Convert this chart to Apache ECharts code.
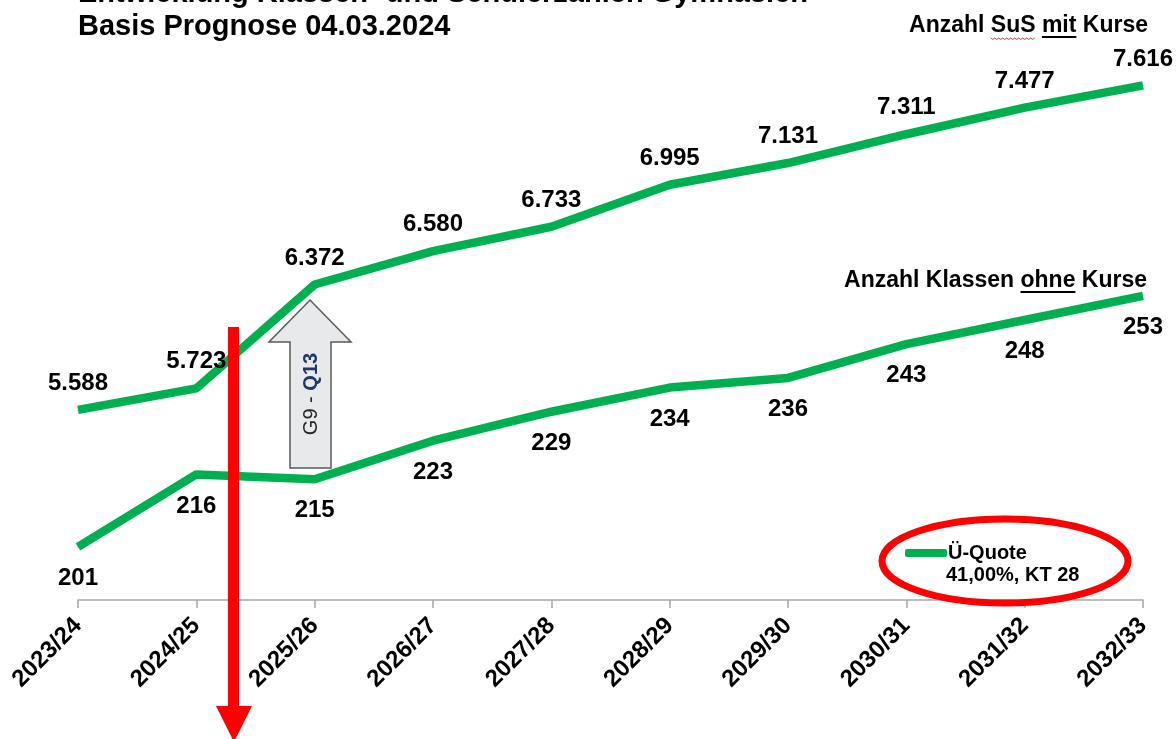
<!DOCTYPE html>
<html><head><meta charset="utf-8">
<script src="https://cdn.jsdelivr.net/npm/echarts@6/dist/echarts.min.js"></script>
<style>html,body{margin:0;padding:0;background:#fff}#c{width:1176px;height:739px}</style>
</head><body><div id="c"></div>
<script>
const categories = ['2023/24','2024/25','2025/26','2026/27','2027/28','2028/29','2029/30','2030/31','2031/32','2032/33'];
const susValues = [5588, 5723, 6372, 6580, 6733, 6995, 7131, 7311, 7477, 7616];
const klassenValues = [201, 216, 215, 223, 229, 234, 236, 243, 248, 253];
const seriesNames = ['Anzahl SuS mit Kurse', 'Anzahl Klassen ohne Kurse'];
const legendName = 'Ü-Quote';
const legendSub = '41,00%, KT 28';
const titleLines = ['Entwicklung Klassen- und Schülerzahlen Gymnasien', 'Basis Prognose 04.03.2024'];

const FONT = '"Liberation Sans", Arial, Helvetica, sans-serif';
const GREEN = '#00b050';
const fmt = v => String(v).replace(/\B(?=(\d{3})+(?!\d))/g, '.');

const chart = echarts.init(document.getElementById('c'), null, {renderer: 'canvas'});

const cv = document.createElement('canvas').getContext('2d');
function tw(t, size) { cv.font = 'bold ' + size + 'px ' + FONT; return cv.measureText(t).width; }

const nameSize = 23;
const n1 = seriesNames[0], n1Right = 1148, n1Base = 33;
const n1W = tw(n1, nameSize);
const n1Left = n1Right - n1W;
const susStart = n1Left + tw('Anzahl ', nameSize), susEnd = susStart + tw('SuS', nameSize);
const mitStart = n1Left + tw('Anzahl SuS ', nameSize), mitEnd = mitStart + tw('mit', nameSize);
const n2 = seriesNames[1], n2Right = 1147, n2Base = 288;
const n2W = tw(n2, nameSize);
const n2Left = n2Right - n2W;
const ohneStart = n2Left + tw('Anzahl Klassen ', nameSize), ohneEnd = ohneStart + tw('ohne', nameSize);

const wave = [];
for (let x = susStart, i = 0; x <= susEnd; x += 2, i++) wave.push([x, n1Base + 5 + (i % 2 ? 1.5 : 0)]);

const graphics = [
  {type:'text', left: 78, top: -21, style:{text: titleLines[0], font: 'bold 29px ' + FONT, fill:'#000'}},
  {type:'text', left: 78, top: 12, style:{text: titleLines[1], font: 'bold 29px ' + FONT, fill:'#000'}},
  {type:'text', x: n1Right, y: n1Base + 4, style:{text: n1, font: 'bold ' + nameSize + 'px ' + FONT, fill:'#000', align:'right', verticalAlign:'bottom'}},
  {type:'line', shape:{x1: mitStart, y1: n1Base + 4, x2: mitEnd, y2: n1Base + 4}, style:{stroke:'#000', lineWidth:1.8}},
  {type:'polyline', shape:{points: wave}, style:{stroke:'#e23b3b', lineWidth:1, fill:null}},
  {type:'text', x: n2Right, y: n2Base + 4, style:{text: n2, font: 'bold ' + nameSize + 'px ' + FONT, fill:'#000', align:'right', verticalAlign:'bottom'}},
  {type:'line', shape:{x1: ohneStart, y1: n2Base + 4, x2: ohneEnd, y2: n2Base + 4}, style:{stroke:'#000', lineWidth:1.8}},
  {type:'text', x: 946, y: 575, style:{text: legendSub, font: 'bold 20px ' + FONT, fill:'#000', verticalAlign:'middle'}},
  {type:'ellipse', shape:{cx: 1005, cy: 561, rx: 123, ry: 42}, style:{stroke:'#ff0000', lineWidth:7, fill:null}, z: 20},
  {type:'polygon', shape:{points:[[310,300],[351,342],[331,342],[331,468],[290,468],[290,342],[269,342]]},
   style:{fill:'#e8e9eb', stroke:'#5a5a5a', lineWidth:1.5}, z: 15},
  {type:'text', x: 311, y: 394, rotation: Math.PI/2,
   style:{text:'{a|G9 - }{b|Q13}', align:'center', verticalAlign:'middle',
     rich:{a:{font:'20px ' + FONT, fill:'#262626'}, b:{font:'bold 20px ' + FONT, fill:'#1f3864'}}}, z: 16},
  {type:'rect', shape:{x: 228, y: 327, width: 11, height: 382}, style:{fill:'#ff0000'}, z: 30},
  {type:'polygon', shape:{points:[[216,706],[252,706],[234,742]]}, style:{fill:'#ff0000'}, z: 30}
];

const labelStyle = {fontFamily: FONT, fontWeight: 'bold', fontSize: 24, color: '#000'};

chart.setOption({
  animation: false,
  backgroundColor: '#fff',
  grid: {left: 78, right: 33, top: 40, bottom: 139},
  legend: {
    data: [legendName], left: 900, top: 538, icon: 'roundRect', itemWidth: 42, itemHeight: 8, itemGap: 0,
    textStyle: {fontFamily: FONT, fontWeight: 'bold', fontSize: 20, color: '#000', padding: [0,0,0,-4]}
  },
  xAxis: {
    type: 'category', data: categories, boundaryGap: false,
    axisLine: {lineStyle: {color: '#a6a6a6', width: 1.5}},
    axisTick: {show: true, length: 8, lineStyle: {color: '#a6a6a6', width: 1.5}},
    axisLabel: {rotate: 45, margin: 22, fontFamily: FONT, fontWeight: 'bold', fontSize: 24, color: '#000'},
    splitLine: {show: false}
  },
  yAxis: [
    {type: 'value', min: 4400, max: 7900, show: false, splitLine: {show: false}},
    {type: 'value', min: 190, max: 306, show: false, splitLine: {show: false}}
  ],
  series: [
    {name: seriesNames[0], type: 'line', yAxisIndex: 0, data: susValues, symbol: 'circle', symbolSize: 1, showSymbol: true,
     lineStyle: {color: GREEN, width: 8.5}, itemStyle: {color: GREEN},
     label: Object.assign({show: true, position: 'top', distance: 14, formatter: p => fmt(p.value)}, labelStyle), z: 3},
    {name: seriesNames[1], type: 'line', yAxisIndex: 1, data: klassenValues, symbol: 'circle', symbolSize: 1, showSymbol: true,
     lineStyle: {color: GREEN, width: 8.5}, itemStyle: {color: GREEN},
     label: Object.assign({show: true, position: 'bottom', distance: 19, formatter: p => fmt(p.value)}, labelStyle), z: 3},
    {name: legendName, type: 'line', data: [], symbol: 'none', lineStyle: {color: GREEN, width: 8}, itemStyle: {color: GREEN}}
  ],
  graphic: graphics
});
</script></body></html>
